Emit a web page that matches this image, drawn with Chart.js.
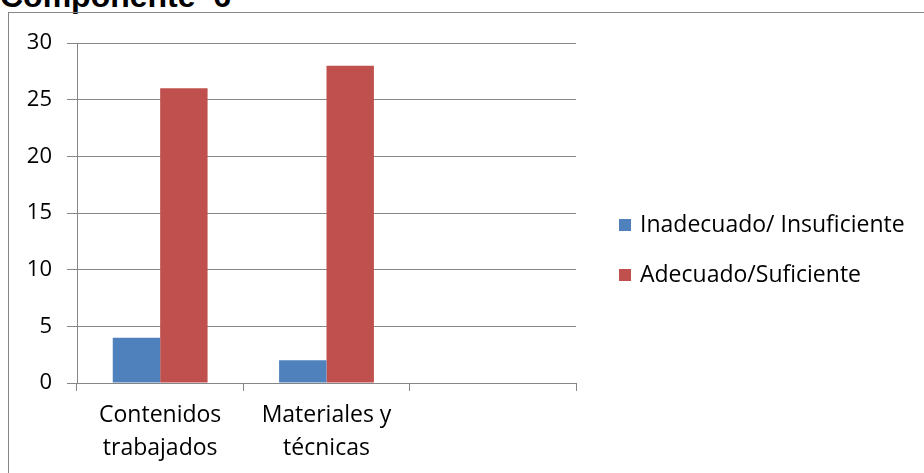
<!DOCTYPE html>
<html>
<head>
<meta charset="utf-8">
<script src="https://cdn.jsdelivr.net/npm/chart.js@4.4.1/dist/chart.umd.min.js"></script>
<style>
  html, body { margin: 0; padding: 0; background: #fff; overflow: hidden; }
  #wrap { position: relative; width: 924px; height: 473px; }
  #title {
    position: absolute; left: 0; top: -22px; line-height: 32px;
    font: bold 32px "Liberation Sans", Arial, sans-serif; color: #000;
    white-space: pre;
  }
  #frame {
    position: absolute; left: 8px; top: 12px; width: 930px; height: 480px;
    border: 1px solid #868686; box-sizing: border-box;
  }
  #chart { position: absolute; left: 0; top: 0; }
  #legend {
    position: absolute; left: 619px; top: 207px;
    font: 23px "Open Sans", sans-serif; color: #000;
  }
  #legend div { height: 50px; line-height: 32px; white-space: nowrap; }
  #legend span.box {
    display: inline-block; width: 12px; height: 12px; margin-right: 9px;
    vertical-align: 1px;
  }
</style>
</head>
<body>
<div id="wrap">
  <div id="title">Componente  6</div>
  <div id="frame"></div>
  <canvas id="chart" width="924" height="473"></canvas>
  <div id="legend"></div>
</div>
<script>
const categories = [["Contenidos", "trabajados"], ["Materiales y", "técnicas"], ""];
const seriesNames = ["Inadecuado/ Insuficiente", "Adecuado/Suficiente"];
const inadecuado = [4, 2, null];
const adecuado = [26, 28, null];
const colors = ["#4F81BD", "#C0504D"];

const gridColor = "#868686";

const ctx = document.getElementById("chart").getContext("2d");

new Chart(ctx, {
  type: "bar",
  data: {
    labels: categories,
    datasets: [
      { label: seriesNames[0], data: inadecuado, backgroundColor: colors[0] },
      { label: seriesNames[1], data: adecuado, backgroundColor: colors[1] }
    ]
  },
  options: {
    responsive: false,
    animation: false,
    categoryPercentage: 0.57,
    barPercentage: 1,
    layout: { padding: { left: 0, top: 43, right: 924 - 576, bottom: 0 } },
    plugins: { legend: { display: false }, tooltip: { enabled: false } },
    scales: {
      x: {
        offset: true,
        grid: { offset: true, drawOnChartArea: false, drawTicks: true, tickLength: 8, color: gridColor, lineWidth: 1 },
        border: { color: gridColor, width: 1 },
        ticks: {
          color: "#000", font: { family: "Open Sans", size: 23, lineHeight: 1.43 },
          padding: 8, maxRotation: 0, autoSkip: false
        },
        afterFit: (s) => { s.height = 473 - 383; }
      },
      y: {
        min: 0, max: 30,
        grid: { color: gridColor, lineWidth: 1, tickLength: 10 },
        border: { color: gridColor, width: 1 },
        ticks: { stepSize: 5, color: "#000", font: { family: "Open Sans", size: 22 }, padding: 15 },
        afterFit: (s) => { s.width = 77; }
      }
    }
  }
});

// legend built from the series
const legend = document.getElementById("legend");
seriesNames.forEach((name, i) => {
  const row = document.createElement("div");
  const box = document.createElement("span");
  box.className = "box";
  box.style.background = colors[i];
  row.appendChild(box);
  row.appendChild(document.createTextNode(name));
  legend.appendChild(row);
});
</script>
</body>
</html>
